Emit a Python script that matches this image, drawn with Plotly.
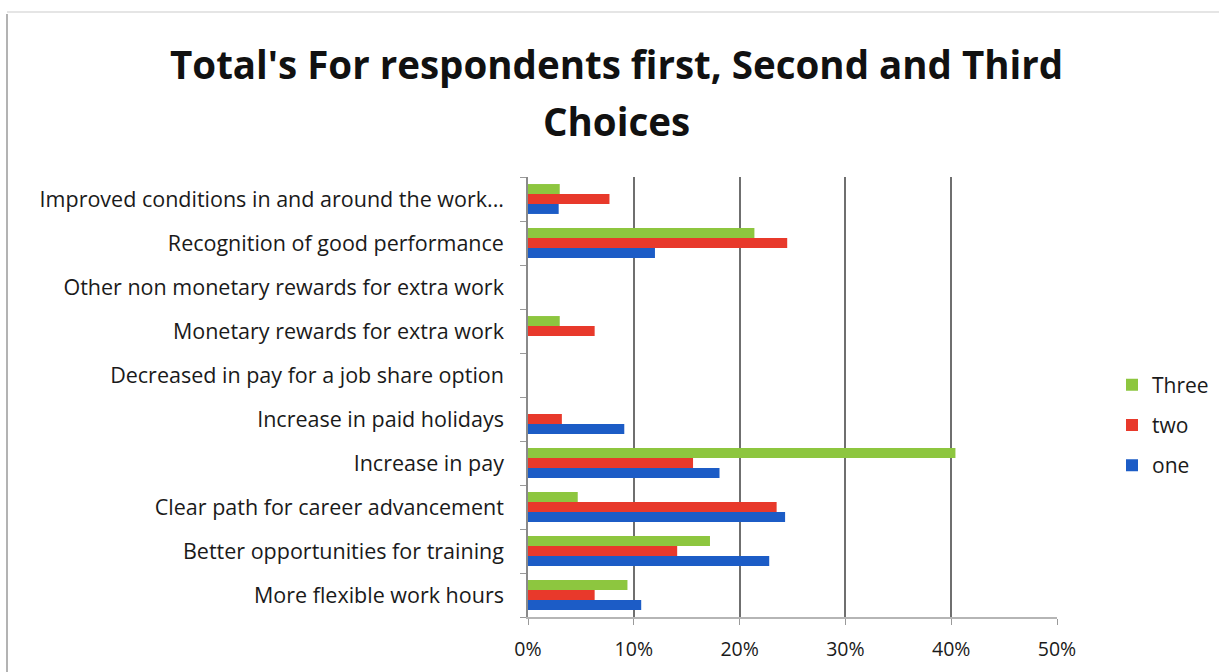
import plotly.graph_objects as go

# Survey categories, listed bottom to top as they appear on the axis
categories = [
    "More flexible work hours",
    "Better opportunities for training",
    "Clear path for career advancement",
    "Increase in pay",
    "Increase in paid holidays",
    "Decreased in pay for a job share option",
    "Monetary rewards for extra work",
    "Other non monetary rewards for extra work",
    "Recognition of good performance",
    "Improved conditions in and around the work...",
]

# Share of respondents (%) for each choice rank
one = [10.7, 22.8, 24.3, 18.1, 9.1, 0, 0, 0, 12.0, 2.9]
two = [6.3, 14.1, 23.5, 15.6, 3.2, 0, 6.3, 0, 24.5, 7.7]
three = [9.4, 17.2, 4.7, 40.4, 0, 0, 3.0, 0, 21.4, 3.0]

x_ticks = [0, 10, 20, 30, 40, 50]
x_tick_labels = ["0%", "10%", "20%", "30%", "40%", "50%"]

title_lines = ["Total's For respondents first, Second and Third", "Choices"]

# name, values, colour, legend position (top first)
series = [
    ("one", one, "#1c5cc6", 3),
    ("two", two, "#e8392b", 2),
    ("Three", three, "#8dc63f", 1),
]

FONT = "Open Sans"

fig = go.Figure()
for name, vals, color, rank in series:
    fig.add_trace(go.Bar(
        name=name,
        legendgroup=name,
        legendrank=rank,
        y=categories,
        x=vals,
        orientation="h",
        marker=dict(color=color, line=dict(width=0)),
    ))

W, H = 1219, 672
L, R, T, B = 528, 162, 177, 55
PW, PH = W - L - R, H - T - B


def px_x(x):
    return (x - L) / PW


def px_y(y):
    return (H - B - y) / PH


# two-line bold heading
for text, ypix in zip(title_lines, [64, 121]):
    fig.add_annotation(
        text=f"<b>{text}</b>",
        xref="paper", yref="paper",
        x=px_x(616), y=px_y(ypix),
        xanchor="center", yanchor="middle",
        showarrow=False,
        font=dict(family=FONT, size=38.5, color="#111111"),
    )

fig.update_layout(
    width=W,
    height=H,
    margin=dict(l=L, r=R, t=T, b=B, autoexpand=False),
    paper_bgcolor="white",
    plot_bgcolor="white",
    barmode="group",
    bargap=0.32,
    bargroupgap=0,
    font=dict(family=FONT, color="#1a1a1a"),
    legend=dict(
        traceorder="grouped",
        x=px_x(1112),
        xanchor="left",
        y=px_y(425),
        yanchor="middle",
        font=dict(family=FONT, size=21, color="#1a1a1a"),
        itemwidth=30,
        tracegroupgap=10,
        bgcolor="rgba(0,0,0,0)",
    ),
    xaxis=dict(
        range=[0, 50],
        tickvals=x_ticks,
        ticktext=x_tick_labels,
        showgrid=True,
        gridcolor="#6f6f6f",
        gridwidth=1.5,
        zeroline=False,
        showline=True,
        linecolor="#b5b5b5",
        linewidth=1.5,
        ticks="outside",
        ticklen=6,
        tickcolor="#9a9a9a",
        tickfont=dict(family=FONT, size=19.5, color="#1a1a1a"),
        ticklabelstandoff=8,
    ),
    yaxis=dict(
        type="category",
        showgrid=False,
        zeroline=False,
        showline=True,
        linecolor="#8a8a8a",
        linewidth=1.5,
        ticks="outside",
        tickson="boundaries",
        ticklen=6,
        tickcolor="#9a9a9a",
        tickfont=dict(family=FONT, size=21.5, color="#1a1a1a"),
        ticklabelstandoff=18,
    ),
    shapes=[
        # outer chart frame edges (left and top)
        dict(type="line", xref="paper", yref="paper",
             x0=px_x(7), x1=px_x(7), y0=px_y(H), y1=px_y(14),
             line=dict(color="#9a9a9a", width=1.5)),
        dict(type="line", xref="paper", yref="paper",
             x0=px_x(7), x1=px_x(W), y0=px_y(12), y1=px_y(12),
             line=dict(color="#dcdcdc", width=1.5)),
    ],
)

fig.write_html("out.html")
